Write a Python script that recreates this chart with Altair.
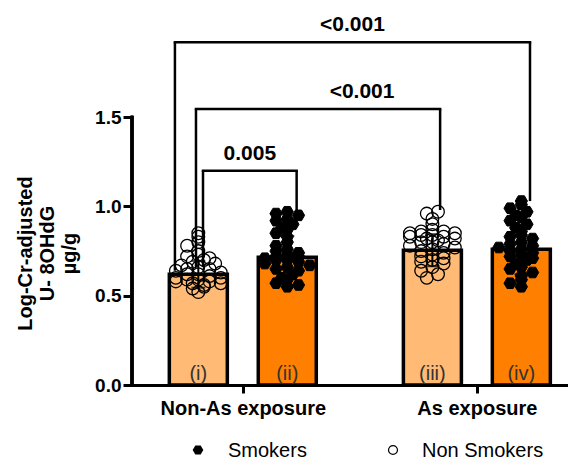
import altair as alt
import pandas as pd

# ---------------- data ----------------
groups = ["Non-As exposure", "As exposure"]
statuses = ["Non Smokers", "Smokers"]
bar_labels = ["(i)", "(ii)", "(iii)", "(iv)"]          # order: (grp0,NS),(grp0,S),(grp1,NS),(grp1,S)
bar_means = [0.62, 0.715, 0.755, 0.76]
bar_sds = [0.075, 0.12, 0.09, 0.14]

pts_i = [0.85, 0.83, 0.80, 0.78, 0.75, 0.73, 0.72, 0.71, 0.70, 0.69, 0.68, 0.67,
         0.66, 0.65, 0.65, 0.64, 0.63, 0.62, 0.62, 0.61, 0.60, 0.60, 0.59, 0.59,
         0.58, 0.58, 0.57, 0.57, 0.56, 0.55, 0.54, 0.52]
pts_ii = [0.97, 0.96, 0.95, 0.93, 0.92, 0.90, 0.88, 0.87, 0.85, 0.83, 0.80, 0.78,
          0.76, 0.75, 0.74, 0.73, 0.72, 0.72, 0.71, 0.70, 0.70, 0.69, 0.68, 0.67,
          0.66, 0.65, 0.64, 0.62, 0.60, 0.59, 0.57, 0.56, 0.55]
pts_iii = [0.97, 0.96, 0.93, 0.90, 0.87, 0.86, 0.86, 0.85, 0.85, 0.84, 0.84, 0.83,
           0.83, 0.82, 0.82, 0.81, 0.80, 0.80, 0.79, 0.78, 0.77, 0.76, 0.75, 0.74,
           0.73, 0.72, 0.71, 0.70, 0.69, 0.68, 0.66, 0.64, 0.62, 0.60]
pts_iv = [1.03, 1.01, 0.99, 0.97, 0.95, 0.94, 0.92, 0.90, 0.88, 0.86, 0.84, 0.83,
          0.82, 0.80, 0.79, 0.78, 0.77, 0.76, 0.75, 0.74, 0.73, 0.72, 0.71, 0.70,
          0.68, 0.66, 0.65, 0.63, 0.61, 0.59, 0.57, 0.55]

# comparisons: (left bar index, right bar index, bracket top, left leg bottom, right leg bottom, label)
cmp_left = [0, 0, 0]
cmp_right = [1, 2, 3]
cmp_top = [1.20, 1.545, 1.92]
cmp_left_bottom = [0.66, 0.66, 0.64]
cmp_right_bottom = [0.98, 0.98, 1.03]
cmp_labels = ["0.005", "<0.001", "<0.001"]

legend_items = ["Smokers", "Non Smokers"]
y_ticks = [0.0, 0.5, 1.0, 1.5]

# ---------------- layout helpers ----------------
SUB = 0.19                      # half distance between the two bars of a group (x units)
LEG_L = [0.02, -0.01, -0.10]    # bracket leg shifts relative to bar centres
LEG_R = [0.04, 0.033, 0.037]
TXT_DX = [0, 44, 0]
HEX = "M-1,0L-0.5,-0.866L0.5,-0.866L1,0L0.5,0.866L-0.5,0.866Z"
FONT = "Liberation Sans"
W, H = 436, 375
BIN = 0.035      # value bin for the scatter spreading
STEP = 0.048     # horizontal spacing of points in one bin (x units)
SLOTS = [0, -1, 1, -2, 2, -0.5, 0.5, -1.5, 1.5, 0.25, -0.25]


def bar_x(k):
    g, s = divmod(k, 2)
    return g + (SUB if s == 1 else -SUB)


bars = pd.DataFrame({
    "x": [bar_x(k) for k in range(4)],
    "status": [statuses[k % 2] for k in range(4)],
    "mean": bar_means,
    "lo": [m - s for m, s in zip(bar_means, bar_sds)],
    "hi": [m + s for m, s in zip(bar_means, bar_sds)],
    "lab": bar_labels,
    "zero": [0.0] * 4,
})

# scatter spreading (GraphPad style): points sharing a value bin are spread sideways
rows = []
for k, vals in enumerate([pts_i, pts_ii, pts_iii, pts_iv]):
    bins = {}
    for v in vals:
        bins.setdefault(int(v / BIN), []).append(v)
    for bkey, members in bins.items():
        n = len(members)
        shift = 0.5 if (bkey % 2 and n % 2 == 0) else 0
        for j, v in enumerate(members):
            slot = SLOTS[j % len(SLOTS)]
            if n > 1:
                slot = slot + (shift if abs(slot + shift) <= 2 else -shift)
            rows.append({"x": bar_x(k) + slot * STEP, "y": v, "status": statuses[k % 2]})
pts = pd.DataFrame(rows)

brk = pd.DataFrame({
    "xl": [bar_x(l) + d for l, d in zip(cmp_left, LEG_L)],
    "xr": [bar_x(r) + d for r, d in zip(cmp_right, LEG_R)],
    "top": cmp_top,
    "lb": cmp_left_bottom,
    "rb": cmp_right_bottom,
    "lab": cmp_labels,
})
brk["xm"] = (brk["xl"] + brk["xr"]) / 2

xs = alt.Scale(domain=[-0.452, 1.368], nice=False, zero=False)
ys = alt.Scale(domain=[0, 2.1], nice=False, zero=True)

xaxis = alt.Axis(values=[0, 1], labelExpr="datum.value == 0 ? 'Non-As exposure' : 'As exposure'",
                 title=None, grid=False, domainWidth=3, domainColor="black", tickWidth=3,
                 tickSize=8, tickColor="black", labelFontSize=20, labelFontWeight="bold",
                 labelFont=FONT, labelColor="black", labelPadding=5, domainCap="square")
yaxis = alt.Axis(values=y_ticks, format=".1f", grid=False, domain=False, tickWidth=3, tickSize=9,
                 tickColor="black", labelFontSize=19, labelFontWeight="bold", labelFont=FONT,
                 labelColor="black", labelPadding=2,
                 title=["Log-Cr-adjusted", "U- 8OHdG", "µg/g"], titleFontSize=20,
                 titleFont=FONT, titleFontWeight="bold", titleColor="black", titleLineHeight=22,
                 titleAngle=270, titleAlign="center", titleBaseline="middle",
                 titleX=-107, titleY=243)

bar_layer = alt.Chart(bars).mark_bar(size=58, stroke="black", strokeWidth=3.5).encode(
    x=alt.X("x:Q", scale=xs, axis=xaxis),
    y=alt.Y("mean:Q", scale=ys, axis=yaxis),
    fill=alt.Fill("status:N", scale=alt.Scale(domain=statuses, range=["#FFBA75", "#FF8000"]),
                  legend=None),
)
bar_text = alt.Chart(bars).mark_text(fontSize=20, font=FONT, color="#333333", baseline="bottom", dy=-1).encode(
    x="x:Q", y="zero:Q", text="lab:N")

yline = alt.Chart(bars).mark_rule(color="black", strokeWidth=3, strokeCap="square").encode(
    x=alt.value(0), y=alt.datum(0), y2=alt.datum(1.5))

smk = pts[pts.status == "Smokers"]
nsm = pts[pts.status == "Non Smokers"]
smk_layer = alt.Chart(smk).mark_point(shape=HEX, filled=True, fill="black", stroke="black",
                                      strokeWidth=1, size=150, opacity=1).encode(x="x:Q", y="y:Q")
nsm_layer = alt.Chart(nsm).mark_point(shape="circle", filled=False, stroke="black",
                                      strokeWidth=1.3, size=160, opacity=1).encode(x="x:Q", y="y:Q")

err = alt.Chart(bars).mark_rule(color="black", strokeWidth=2).encode(x="x:Q", y="lo:Q", y2="hi:Q")
cap_hi = alt.Chart(bars).mark_tick(color="black", orient="horizontal", size=14, thickness=2).encode(
    x="x:Q", y="hi:Q")
cap_lo = alt.Chart(bars).mark_tick(color="black", orient="horizontal", size=14, thickness=2).encode(
    x="x:Q", y="lo:Q")

b = alt.Chart(brk)
h_rule = b.mark_rule(color="black", strokeWidth=2.5, strokeCap="square").encode(x="xl:Q", x2="xr:Q", y="top:Q")
l_rule = b.mark_rule(color="black", strokeWidth=2.5).encode(x="xl:Q", y="lb:Q", y2="top:Q")
r_rule = b.mark_rule(color="black", strokeWidth=2.5).encode(x="xr:Q", y="rb:Q", y2="top:Q")

txt_layers = []
for i in range(len(cmp_labels)):
    txt_layers.append(
        alt.Chart(brk.iloc[[i]]).mark_text(fontSize=21, font=FONT, fontWeight="bold", color="black",
                                           baseline="alphabetic", dy=-11, dx=TXT_DX[i]).encode(
            x="xm:Q", y="top:Q", text="lab:N"))

# legend drawn below the plot (pixel positions relative to the plot area)
LEG_SYM_X = [66, 261]
LEG_Y = 440
leg_df = pd.DataFrame({"lab": legend_items})
leg_layers = [
    alt.Chart(leg_df.iloc[[0]]).mark_point(shape=HEX, filled=True, fill="black", stroke="black",
                                           size=70, opacity=1).encode(
        x=alt.value(LEG_SYM_X[0]), y=alt.value(LEG_Y)),
    alt.Chart(leg_df.iloc[[1]]).mark_point(shape="circle", filled=False, stroke="black",
                                           strokeWidth=1.2, size=80, opacity=1).encode(
        x=alt.value(LEG_SYM_X[1]), y=alt.value(LEG_Y)),
    alt.Chart(leg_df.iloc[[0]]).mark_text(fontSize=20, font=FONT, color="black", align="left",
                                          baseline="middle").encode(
        x=alt.value(LEG_SYM_X[0] + 30), y=alt.value(LEG_Y + 1), text="lab:N"),
    alt.Chart(leg_df.iloc[[1]]).mark_text(fontSize=20, font=FONT, color="black", align="left",
                                          baseline="middle").encode(
        x=alt.value(LEG_SYM_X[1] + 29), y=alt.value(LEG_Y + 1), text="lab:N"),
]

chart = alt.layer(bar_layer, bar_text, smk_layer, nsm_layer, err, cap_hi, cap_lo, yline,
                  h_rule, l_rule, r_rule, *txt_layers, *leg_layers).properties(
    width=W, height=H,
    autosize=alt.AutoSizeParams(type="none"),
    padding={"left": 124, "top": 2, "right": 0, "bottom": 77},
).configure_view(stroke=None)

chart.save("out.html", embed_options={"renderer": "svg", "actions": False})
